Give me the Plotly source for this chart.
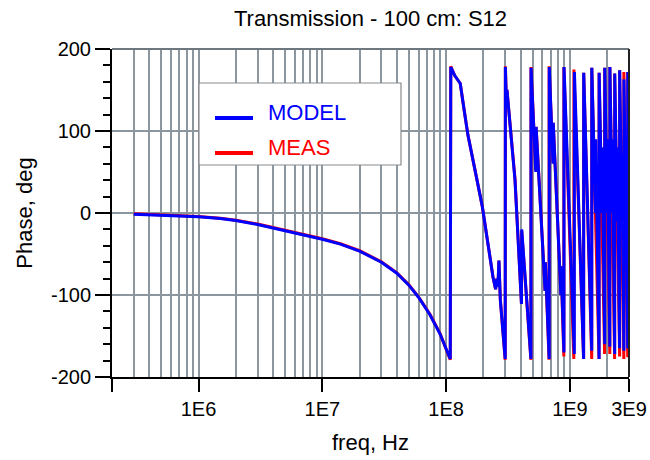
import math
import plotly.graph_objects as go

# ---------------- data ----------------
freq_model = [3e5, 4e5, 5e5, 7e5, 1e6, 1.5e6, 2e6, 3e6, 5e6, 7e6, 1e7, 1.4e7, 2e7, 3e7, 4e7, 5e7, 6e7, 7.4e7, 8.9e7, 1.08e8,
              1.09e8, 1.17e8, 1.30e8, 1.40e8, 1.50e8, 1.75e8, 1.96e8, 2.20e8, 2.39e8, 2.51e8, 2.57e8, 2.62e8, 2.67e8, 2.74e8, 3.00e8,
              3.01e8, 3.06e8, 3.10e8, 3.60e8, 4.06e8, 4.08e8, 4.84e8,
              4.85e8, 5.30e8, 5.33e8, 5.80e8, 6.30e8, 6.33e8, 6.80e8,
              6.81e8, 7.30e8, 7.33e8, 7.90e8, 8.45e8, 8.48e8, 8.95e8,
              8.96e8, 1.085e9, 1.087e9, 1.29e9, 1.292e9, 1.50e9,
              1.502e9, 1.61e9, 1.615e9, 1.72e9,
              1.722e9, 1.815e9, 1.82e9, 1.91e9,
              1.912e9, 2.00e9, 2.005e9, 2.10e9,
              2.102e9, 2.20e9, 2.205e9, 2.30e9,
              2.302e9, 2.41e9, 2.415e9, 2.52e9,
              2.522e9, 2.63e9, 2.635e9, 2.73e9,
              2.732e9, 2.83e9, 2.835e9, 2.93e9,
              2.932e9, 3.0e9]
phase_model = [-1.5, -2.2, -2.8, -3.6, -4.5, -6.8, -9.2, -14, -21.5, -26.5, -32, -38, -46.5, -60, -73.5, -88, -103, -124, -147, -178,
               178, 168, 158, 125, 95, 45, 8, -42, -78, -93, -80, -90, -58, -106, -178,
               178, 140, 150, 40, -111, -20, -178,
               177, 50, 105, 4, -95, -60, -178,
               178, 60, 110, 0, -100, -65, -170,
               178, -172, 172, -178, 171, -168,
               177, 0, 90, -178,
               171, 0, 80, -160,
               177, 0, 90, -163,
               178, 0, 90, -172,
               170, -10, 80, -165,
               174, -20, 70, -168,
               163, -10, 80, -165,
               172, -160]

freq_meas = [3e5, 4e5, 5e5, 7e5, 1e6, 1.5e6, 2e6, 3e6, 5e6, 7e6, 1e7, 1.4e7, 2e7, 3e7, 4e7, 5e7, 6e7, 7.4e7, 8.9e7, 1.08e8,
             1.09e8, 1.17e8, 1.30e8, 1.40e8, 1.50e8, 1.75e8, 1.96e8, 2.20e8, 2.39e8, 2.51e8, 2.57e8, 2.62e8, 2.67e8, 2.74e8, 3.00e8,
             3.01e8, 3.06e8, 3.10e8, 3.60e8, 4.06e8, 4.08e8, 4.84e8,
             4.85e8, 5.30e8, 5.33e8, 5.80e8, 6.30e8, 6.33e8, 6.78e8,
             6.79e8, 7.30e8, 7.33e8, 7.90e8, 8.45e8, 8.48e8, 8.93e8,
             8.94e8, 1.075e9, 1.077e9, 1.29e9, 1.292e9, 1.50e9, 1.502e9, 1.718e9,
             1.72e9, 1.905e9, 1.907e9, 2.10e9, 2.102e9, 2.295e9, 2.297e9, 2.52e9,
             2.522e9, 2.725e9, 2.727e9, 2.93e9, 2.932e9, 3.0e9]
phase_meas = [-1.0, -1.6, -2.2, -3.2, -4.2, -6.4, -8.8, -13.5, -21, -26, -31.5, -37.5, -46, -59.5, -73, -87.5, -102.5, -123.5, -146.5, -179,
              179, 168, 158, 125, 95, 45, 8, -42, -78, -93, -80, -90, -58, -106, -179,
              179, 142, 150, 42, -111, -22, -179,
              178, 52, 105, 6, -95, -60, -179,
              179, 62, 110, 2, -100, -65, -175,
              178, -178, 175, -178, 171, -178, 177, -178,
              171, -172, 177, -172, 178, -178, 170, -175,
              174, -178, 172, -176, 172, -165]

x_tickvals = [2e5, 1e6, 1e7, 1e8, 1e9, 3e9]
x_ticktext = ["", "1E6", "1E7", "1E8", "1E9", "3E9"]
x_minor_vals = [m * 10 ** e for e in range(5, 10) for m in range(2, 10) if 2e5 < m * 10 ** e < 3e9]
y_tickvals = [-200, -100, 0, 100, 200]
y_ticktext = ["-200", "-100", "0", "100", "200"]

title_text = "Transmission - 100 cm: S12"
x_title = "freq, Hz"
y_title = "Phase, deg"
legend_names = ["MODEL", "MEAS"]
legend_colors = ["#0000ff", "#ff0000"]

FONT = "Liberation Sans, Arial, sans-serif"
GRID = "#8c969f"

W, H = 650, 460
L, R, T, B = 112, 21, 49, 83
pw, ph = W - L - R, H - T - B


def px(xp):
    return (xp - L) / pw


def py(yp):
    return (H - B - yp) / ph


fig = go.Figure()
fig.add_trace(go.Scatter(x=freq_meas, y=phase_meas, mode="lines", name=legend_names[1],
                         line=dict(color=legend_colors[1], width=3), showlegend=False))
fig.add_trace(go.Scatter(x=freq_model, y=phase_model, mode="lines", name=legend_names[0],
                         line=dict(color=legend_colors[0], width=3), showlegend=False))

shapes = [
    dict(type="line", xref="paper", yref="paper", x0=0, x1=1, y0=1, y1=1,
         line=dict(color="#6f777f", width=2), layer="above"),
    dict(type="line", xref="paper", yref="paper", x0=1, x1=1, y0=0, y1=1,
         line=dict(color="#222222", width=2), layer="above"),
    dict(type="rect", xref="paper", yref="paper", x0=px(199), x1=px(401), y0=py(165), y1=py(83),
         fillcolor="white", line=dict(color="#8a8a8a", width=1.2), layer="above"),
    dict(type="line", xref="paper", yref="paper", x0=px(215), x1=px(253), y0=py(118), y1=py(118),
         line=dict(color=legend_colors[0], width=4), layer="above"),
    dict(type="line", xref="paper", yref="paper", x0=px(215), x1=px(253), y0=py(153), y1=py(153),
         line=dict(color=legend_colors[1], width=4), layer="above"),
]

annotations = [
    dict(text=legend_names[0], xref="paper", yref="paper", x=px(266), y=py(113), xanchor="left",
         yanchor="middle", showarrow=False, font=dict(family=FONT, size=22, color=legend_colors[0])),
    dict(text=legend_names[1], xref="paper", yref="paper", x=px(266), y=py(147), xanchor="left",
         yanchor="middle", showarrow=False, font=dict(family=FONT, size=22, color=legend_colors[1])),
]

fig.update_layout(
    width=W, height=H,
    margin=dict(l=L, r=R, t=T, b=B, pad=0),
    paper_bgcolor="white", plot_bgcolor="white",
    font=dict(family=FONT, size=20, color="black"),
    title=dict(text=title_text, x=0.5, xref="paper", xanchor="center",
               y=1 - 18 / H, yref="container", yanchor="middle", font=dict(size=22)),
    shapes=shapes, annotations=annotations,
    showlegend=False,
)

fig.update_xaxes(
    type="log", range=[math.log10(2e5), math.log10(3e9)],
    tickmode="array", tickvals=x_tickvals, ticktext=x_ticktext,
    ticks="outside", ticklen=13, tickwidth=2, tickcolor="black",
    showgrid=True, gridcolor=GRID, gridwidth=2,
    showline=True, linecolor="black", linewidth=2, mirror=False,
    minor=dict(tickmode="array", tickvals=x_minor_vals, showgrid=True, gridcolor=GRID, gridwidth=2, ticks=""),
    title=dict(text=x_title, standoff=16, font=dict(size=22)),
    zeroline=False, automargin=False,
)
fig.update_yaxes(
    range=[-200, 200],
    tickmode="array", tickvals=y_tickvals, ticktext=y_ticktext,
    ticks="outside", ticklen=15, tickwidth=1.5, tickcolor="black",
    showgrid=True, gridcolor=GRID, gridwidth=2,
    showline=True, linecolor="black", linewidth=2, mirror=False,
    minor=dict(dtick=20, tick0=0, ticks="outside", ticklen=7, tickwidth=1.5, tickcolor="black", showgrid=False),
    title=dict(text=y_title, standoff=12, font=dict(size=22)),
    zeroline=False, automargin=False,
)

fig.write_html("out.html")
